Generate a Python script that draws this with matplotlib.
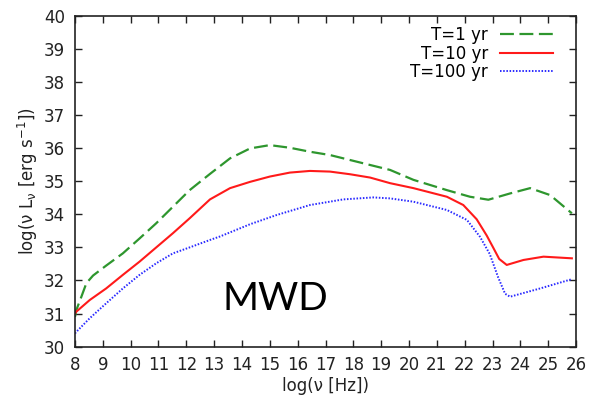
import matplotlib
matplotlib.use('Agg')
import matplotlib.pyplot as plt

plt.rcParams['font.family'] = ['DejaVu Sans']
plt.rcParams['lines.scale_dashes'] = False

# log(nu) [Hz] and log(nu L_nu) for the three epochs
x_1yr = [8.0, 8.05, 8.23, 8.41, 8.65, 9.12, 9.72, 10.32, 10.92, 11.52, 12.12,
         12.85, 13.57, 14.29, 15.0, 15.72, 16.44, 17.16, 17.88, 18.6, 19.32,
         20.16, 21.36, 22.19, 22.85, 23.63, 24.35, 25.07, 25.85]
y_1yr = [30.9, 31.11, 31.51, 31.92, 32.15, 32.45, 32.82, 33.27, 33.73, 34.23,
         34.73, 35.22, 35.69, 35.99, 36.09, 36.01, 35.89, 35.79, 35.64, 35.49,
         35.34, 35.04, 34.73, 34.53, 34.44, 34.63, 34.79, 34.58, 34.03]

x_10yr = [8.0, 8.05, 8.53, 9.12, 9.72, 10.32, 10.92, 11.52, 12.12, 12.85,
          13.57, 14.29, 15.0, 15.72, 16.44, 17.16, 17.88, 18.6, 19.32, 20.16,
          21.36, 21.95, 22.43, 22.79, 23.02, 23.24, 23.51, 24.11, 24.83, 25.85]
y_10yr = [31.0, 31.06, 31.41, 31.76, 32.17, 32.57, 33.0, 33.43, 33.88, 34.45,
          34.79, 34.98, 35.14, 35.26, 35.31, 35.29, 35.21, 35.11, 34.94, 34.79,
          34.53, 34.28, 33.85, 33.36, 33.0, 32.65, 32.47, 32.62, 32.72, 32.67]

x_100yr = [8.0, 8.05, 8.53, 9.12, 9.72, 10.32, 10.92, 11.52, 12.12, 12.9,
           13.21, 14.29, 15.25, 16.44, 17.64, 18.72, 19.32, 20.16, 21.36,
           22.08, 22.55, 22.9, 23.2, 23.45, 23.63, 24.71, 25.85]
y_100yr = [30.4, 30.45, 30.86, 31.31, 31.76, 32.17, 32.52, 32.82, 33.0, 33.24,
           33.33, 33.7, 33.98, 34.28, 34.45, 34.51, 34.48, 34.38, 34.13, 33.83,
           33.32, 32.8, 32.1, 31.6, 31.51, 31.76, 32.04]

fig = plt.figure(figsize=(5.89, 3.97), dpi=100)
ax = fig.add_axes([0.1273, 0.1267, 0.8507, 0.8338])

ax.plot(x_1yr, y_1yr, color='#2e962e', lw=1.6, dashes=(10, 4), label='T=1 yr')
ax.plot(x_10yr, y_10yr, color='#ff1a1a', lw=1.5, label='T=10 yr')
ax.plot(x_100yr, y_100yr, color='#2a2aff', lw=1.4, dashes=(1.1, 1.2),
        label='T=100 yr')

ax.set_xlim(8, 26)
ax.set_ylim(30, 40)
ax.set_xticks(range(8, 27))
ax.set_yticks(range(30, 41))
ax.tick_params(direction='in', length=5, width=1, top=True, right=True,
               labelsize=12, colors='#222222', pad=7)
for s in ax.spines.values():
    s.set_linewidth(1.2)
    s.set_color('#222222')

ax.set_xlabel('log(ν [Hz])', fontsize=12, color='#222222', labelpad=2)
ax.set_ylabel('log(ν L$_{\\mathregular{ν}}$ [erg s$^{\\mathregular{-1}}$])',
              fontsize=12, color='#222222', labelpad=3)

ax.legend(loc='upper right', bbox_to_anchor=(0.954, 0.968), frameon=False,
          markerfirst=False, fontsize=12, handlelength=3.2,
          handletextpad=0.7, labelspacing=0.02, borderpad=0,
          borderaxespad=0)

ax.text(15.2, 31.45, 'MWD', fontsize=28, family='Lato', ha='center',
        va='center', color='black')

fig.savefig('out.png', dpi=100)
